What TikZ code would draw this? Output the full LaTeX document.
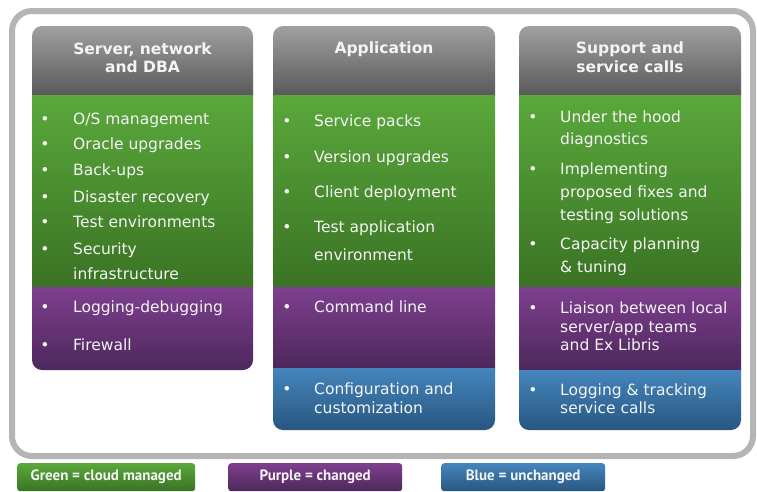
\documentclass[tikz,border=0pt]{standalone}
\usepackage{fontspec}
\setmainfont{DejaVu Sans}
\newfontfamily\keyfont{PT Sans}

\definecolor{hdrtop}{HTML}{A0A0A0}
\definecolor{hdrbot}{HTML}{5A5A5A}
\definecolor{grntop}{HTML}{5AA83B}
\definecolor{grnbot}{HTML}{3A7324}
\definecolor{prptop}{HTML}{7E3F8F}
\definecolor{prpbot}{HTML}{4D285B}
\definecolor{blutop}{HTML}{4585BC}
\definecolor{blubot}{HTML}{275781}
\definecolor{rim}{HTML}{B5B5B5}
\definecolor{ink}{HTML}{F4F4F4}

\tikzset{
	hdr/.style={top color=hdrtop, bottom color=hdrbot},
	grn/.style={top color=grntop, bottom color=grnbot},
	prp/.style={top color=prptop, bottom color=prpbot},
	blu/.style={top color=blutop, bottom color=blubot},
	title/.style={anchor=base, inner sep=0pt, text=ink, font=\bfseries\fontsize{15.5}{18}\selectfont},
	item/.style={anchor=base west, inner sep=0pt, text=ink, font=\fontsize{15.5}{18}\selectfont},
	dot/.style={anchor=base, inner sep=0pt, text=ink, font=\fontsize{15.5}{18}\selectfont},
	key/.style={anchor=north west, rounded corners=3pt, minimum height=28pt, inner sep=0pt,
		text=ink, font=\keyfont\bfseries\fontsize{15}{17}\selectfont}
}

\begin{document}
\begin{tikzpicture}[x=1pt,y=-1pt]
	\useasboundingbox[fill=white] (0,0) rectangle (757,491);
	% outer frame
	\draw[rim,line width=6pt,rounded corners=20pt] (12,11) rectangle (753,456);

	% server, network and DBA
	\begin{scope}
		\clip[rounded corners=10pt] (32,26) rectangle (253,370);
		\shade[hdr] (32,26) rectangle (253,95);
		\shade[grn] (32,95) rectangle (253,287);
		\shade[prp] (32,287) rectangle (253,370);
	\end{scope}
	\node[title] (dba-h1) at (142.5,54) {Server, network};
	\node[title] (dba-h2) at (142.5,72) {and DBA};
	\foreach \y/\t [count=\i] in {124/{O/S management}, 149/{Oracle upgrades}, 175/{Back-ups},
			202/{Disaster recovery}, 227/{Test environments}, 254/{Security}, 279/{infrastructure},
			312/{Logging-debugging}, 350/{Firewall}}
		\node[item] (dba-\i) at (73,\y) {\t};
	\foreach \y in {124,149,175,202,227,254,312,350}
		\node[dot] at (45,\y) {\textbullet};

	% application
	\begin{scope}
		\clip[rounded corners=10pt] (273,26) rectangle (495,430);
		\shade[hdr] (273,26) rectangle (495,95);
		\shade[grn] (273,95) rectangle (495,287);
		\shade[prp] (273,287) rectangle (495,368);
		\shade[blu] (273,368) rectangle (495,430);
	\end{scope}
	\node[title] (app-h1) at (384,53) {Application};
	\foreach \y/\t [count=\i] in {126/{Service packs}, 162/{Version upgrades}, 197/{Client deployment},
			232/{Test application}, 260/{environment}, 312/{Command line},
			394/{Configuration and}, 413/{customization}}
		\node[item] (app-\i) at (314,\y) {\t};
	\foreach \y in {126,162,197,232,312,394}
		\node[dot] at (287,\y) {\textbullet};

	% support and service calls
	\begin{scope}
		\clip[rounded corners=10pt] (519,26) rectangle (741,430);
		\shade[hdr] (519,26) rectangle (741,95);
		\shade[grn] (519,95) rectangle (741,287);
		\shade[prp] (519,287) rectangle (741,370);
		\shade[blu] (519,370) rectangle (741,430);
	\end{scope}
	\node[title] (sup-h1) at (630,53) {Support and};
	\node[title] (sup-h2) at (630,72) {service calls};
	\foreach \y/\t [count=\i] in {122/{Under the hood}, 144/{diagnostics}, 174/{Implementing},
			197/{proposed fixes and}, 220/{testing solutions}, 249/{Capacity planning}, 272/{\& tuning},
			313/{Liaison between local}, 332/{server/app teams}, 350/{and Ex Libris},
			395/{Logging \& tracking}, 413/{service calls}}
		\node[item] (sup-\i) at (560,\y) {\t};
	\foreach \y in {122,174,249,313,395}
		\node[dot] at (533,\y) {\textbullet};

	% colour key
	\node[key,grn,minimum width=178pt] (keygrn) at (17,463) {Green = cloud managed};
	\node[key,prp,minimum width=174pt] (keyprp) at (228,463) {Purple = changed};
	\node[key,blu,minimum width=164pt] (keyblu) at (441,463) {Blue = unchanged};
\end{tikzpicture}
\end{document}
